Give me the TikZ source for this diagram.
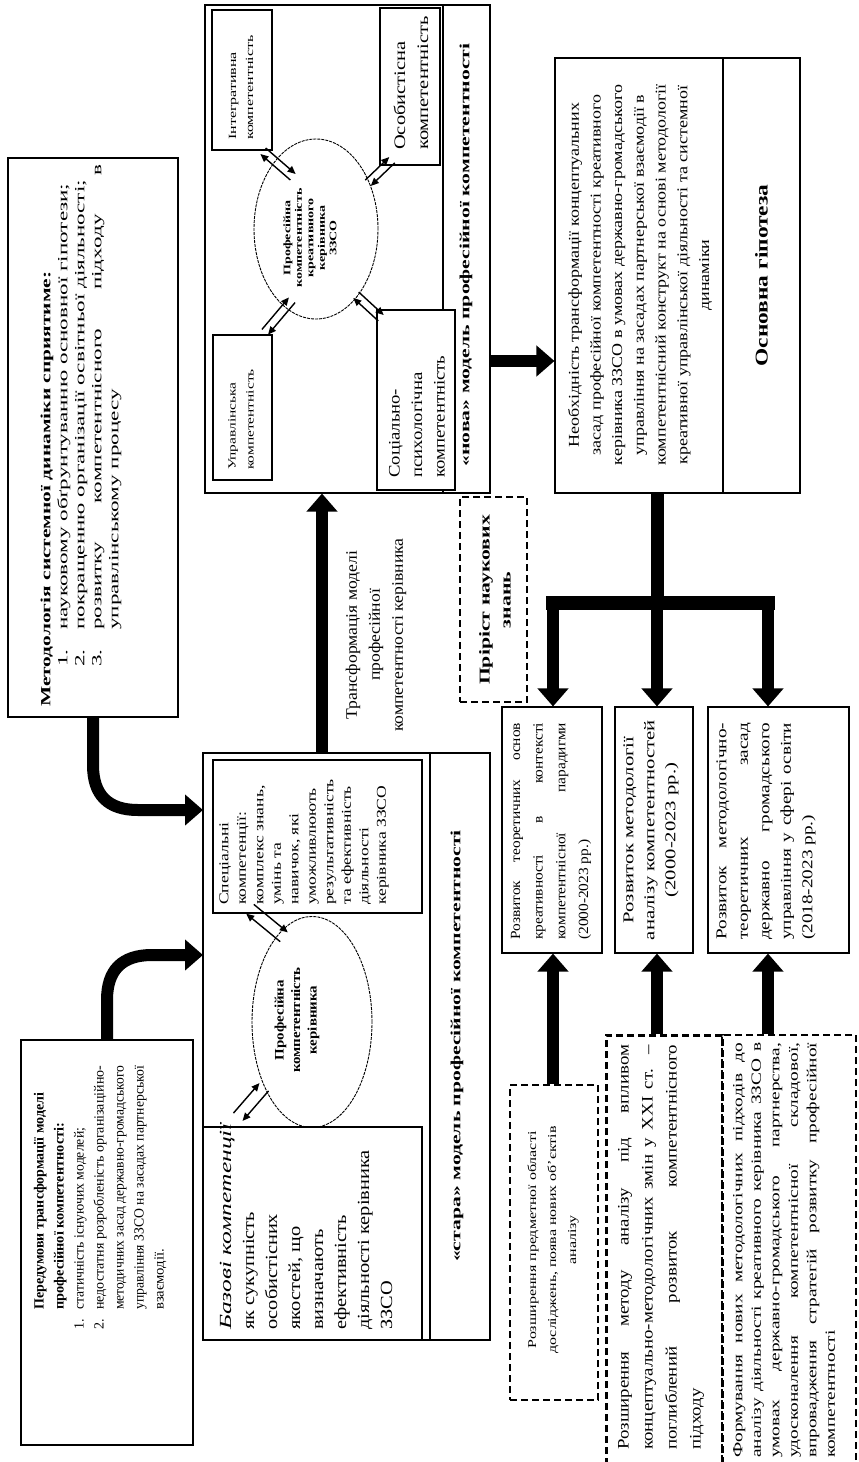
\documentclass[tikz,border=0pt]{standalone}
\usepackage{graphicx}
\usepackage{fontspec}
\setmainfont{Liberation Serif}
\usetikzlibrary{arrows.meta,fit,calc,shapes.geometric}
\newcommand\ff[3]{\fontspec[FakeStretch=#1]{Liberation Serif}\fontsize{#2pt}{#3pt}\selectfont}
\newcommand\itf[1]{\fontspec[FakeStretch=#1]{Liberation Serif}\itshape}
\newcommand\bff[1]{\fontspec[FakeStretch=#1]{Liberation Serif}\bfseries}
\newcommand\js[2]{\makebox[#1pt][s]{#2}}
\newcommand\rl[2]{\resizebox{#1pt}{\height}{#2}}
\newcommand\biarrow[3]{%
 \draw[sarr] ($(#2)!#1!90:(#3)$) -- ($(#3)!#1!-90:(#2)$);
 \draw[sarr] ($(#3)!#1!90:(#2)$) -- ($(#2)!#1!-90:(#3)$);}
\begin{document}
\begin{tikzpicture}[x=1pt,y=-1pt,
 box/.style={draw, line width=1.1pt, fill=white, inner sep=0pt},
 dbox/.style={draw, line width=2pt, dash pattern=on 7pt off 4pt, inner sep=0pt},
 ell/.style={draw, ellipse, line width=0.9pt, dash pattern=on 3pt off 1pt, inner sep=0pt},
 txt/.style={rotate=90, inner sep=0pt, align=left, anchor=west},
 ctxt/.style={rotate=90, inner sep=0pt, align=center, anchor=center},
 big/.style={line width=12pt, -{Triangle[length=18pt,width=30pt]}},
 sarr/.style={line width=1.4pt, -{Triangle[length=8pt,width=7pt]}},
]
\useasboundingbox (0,0) rectangle (859,1462);
\clip (0,0) rectangle (859,1462);
\fill[white] (0,0) rectangle (859,1462);

% ---------- boxes ----------
\node[box, fit={(8,158) (178,717)}] (met) {};
\node[box, fit={(21,1040) (193,1445)}] (pre) {};
\node[box, fit={(205,5) (443,493)}] (novam) {};
\node[box, fit={(443,5) (490,493)}] (noval) {};
\node[box, fit={(212,10) (272,150)}] (integ) {};
\node[box, fit={(380,8) (440,165)}] (osob) {};
\node[box, fit={(213,335) (272,480)}] (upr) {};
\node[box, fit={(377,310) (455,490)}] (soc) {};
\node[box, fit={(203,753) (430,1340)}] (stm) {};
\node[box, fit={(430,753) (490,1340)}] (stl) {};
\node[box, fit={(213,760) (422,913)}] (spec) {};
\node[box, fit={(203,1127) (422,1340)}] (baz) {};
\node[box, fit={(555,58) (723,493)}] (hypt) {};
\node[box, fit={(723,58) (800,493)}] (hypl) {};
\node[dbox, line width=2.5pt, fit={(460,497) (527,702)}] (prir) {};
\node[box, fit={(502,707) (602,953)}] (rA) {};
\node[box, fit={(615,707) (693,953)}] (rB) {};
\node[box, fit={(708,707) (849,953)}] (rC) {};
\node[dbox, fit={(510,1085) (598,1400)}] (dA) {};
\node[dbox, line width=3pt, fit={(606,1035) (722,1480)}] (dB) {};
\node[dbox, line width=2.2pt, fit={(722,1035) (856,1480)}] (dC) {};

\node[ell, minimum width=124pt, minimum height=180pt] (ne) at (316,229) {};
\node[ell, minimum width=120pt, minimum height=211pt] (se) at (312,1022) {};

% ---------- texts ----------
\node[txt, font={\ff{1.65}{14}{17}}] (tmet) at (81,707) {%
{\bff{1.53}Методологія системної динаміки сприятиме:}\\
\hspace*{40pt}\makebox[37pt][l]{1.}науковому обґрунтуванню основної гіпотези;\\
\hspace*{40pt}\makebox[37pt][l]{2.}покращенню організації освітньої діяльності;\\
\hspace*{40pt}\makebox[37pt][l]{3.}\js{465}{розвитку компетентнісного підходу в}\\
\hspace*{77pt}управлінському процесу};

\node[txt, font={\fontsize{14pt}{20pt}\selectfont}] (tpre) at (100,1330) {%
\hspace*{20pt}\rl{217}{\textbf{Передумови трансформації моделі}}\\
\hspace*{20pt}\rl{187}{\textbf{професійної компетентності:}}\\
\makebox[20pt][l]{1.}\rl{182}{статичність існуючих моделей;}\\
\makebox[20pt][l]{2.}\rl{244}{недостатня розробленість організаційно-}\\
\hspace*{20pt}\rl{244}{методичних засад державно-громадського}\\
\hspace*{20pt}\rl{244}{управління ЗЗСО на засадах партнерської}\\
\hspace*{20pt}\rl{61}{взаємодії.}};

\node[ctxt, font={\ff{1.55}{14}{17}\bfseries}] (tnova) at (466,255) {«нова» модель професійної компетентності};
\node[ctxt, font={\ff{1.55}{14}{17}\bfseries}] (tstara) at (457,1046) {«стара» модель професійної компетентності};

\node[txt, font={\ff{1.45}{11}{17}}] (tinteg) at (241,140) {Інтегративна\\компетентність};
\node[txt, font={\ff{1.28}{16}{23}}] (tosob) at (411,150) {Особистісна\\компетентність};
\node[txt, font={\ff{1.4}{11}{18}}] (tupr) at (241,470) {Управлінська\\компетентність};
\node[txt, font={\ff{1.17}{16}{22.5}}] (tsoc) at (417,478) {Соціально-\\психологічна\\компетентність};
\node[ctxt, font={\ff{1.4}{10}{11.5}\bfseries}] (tne) at (310,238) {Професійна\\компетентність\\креативного\\керівника\\ЗЗСО};

\node[ctxt, font={\ff{1.1}{16}{23}}] (ttr) at (376,635) {Трансформація моделі\\професійної\\компетентності керівника};

\node[txt, font={\ff{1.3}{13.5}{17.5}}] (tspec) at (304,905) {Спеціальні\\компетенції:\\комплекс знань,\\умінь та\\навичок, які\\уможливлюють\\результативність\\та ефективність\\діяльності\\керівника ЗЗСО};
\node[ctxt, font={\ff{1.15}{13}{16.5}\bfseries}] (tse) at (297,1020) {Професійна\\компетентність\\керівника};
\node[txt, font={\ff{1.2}{17}{23}}] (tbaz) at (306,1330) {{\itf{1.5}Базові компетенції}\\як сукупність\\особистісних\\якостей, що\\визначають\\ефективність\\діяльності керівника\\ЗЗСО};

\node[ctxt, font={\ff{1.2}{15}{21.7}}] (thyp) at (640,275) {Необхідність трансформації концептуальних\\засад професійної компетентності креативного\\керівника ЗЗСО в умовах державно-громадського\\управління на засадах партнерської взаємодії в\\компетентнісний конструкт на основі методології\\креативної управлінської діяльності та системної\\динаміки};
\node[ctxt, font={\ff{1.3}{18}{22}\bfseries}] (thypl) at (hypl.center) {Основна гіпотеза};
\node[ctxt, font={\ff{1.45}{15}{21}\bfseries}] (tprir) at (495,600) {Пріріст наукових\\знань};

\node[txt, font={\ff{1.1}{14}{22.7}}] (trA) at (551,940) {\js{217}{Розвиток теоретичних основ}\\\js{217}{креативності в контексті}\\\js{217}{компетентнісної парадигми}\\(2000-2023 рр.)};
\node[ctxt, font={\ff{1.38}{15}{21}}] (trB) at (651,830) {Розвиток методології\\аналізу компетентностей\\(2000-2023 рр.)};
\node[txt, font={\ff{1.28}{15}{21.5}}] (trC) at (766,940) {\js{217}{Розвиток методологічно-}\\\js{217}{теоретичних засад}\\\js{217}{державно громадського}\\\js{217}{управління у сфері освіти}\\(2018-2023 рр.)};

\node[ctxt, font={\ff{1.33}{12}{20}}] (tdA) at (553,1240) {Розширення предметної області\\досліджень, поява нових об’єктів\\аналізу};
\node[txt, font={\ff{1.18}{16}{24}}] (tdB) at (661,1450) {\js{405}{Розширення методу аналізу під впливом}\\\js{405}{концептуально-методологічних змін у XXI ст. –}\\\js{405}{поглиблений розвиток компетентнісного}\\підходу};
\node[txt, font={\ff{1.38}{14}{18.5}}] (tdC) at (784,1458) {\js{415}{Формування нових методологічних підходів до}\\\js{415}{аналізу діяльності креативного керівника ЗЗСО в}\\\js{415}{умовах державно-громадського партнерства,}\\\js{415}{удосконалення компетентнісної складової,}\\\js{415}{впровадження стратегій розвитку професійної}\\компетентності};

% ---------- small double arrows ----------
\coordinate (ni1) at (263,151); \coordinate (ni2) at (293,177);
\coordinate (no1) at (392,160); \coordinate (no2) at (368,183);
\coordinate (nu1) at (265,332); \coordinate (nu2) at (292,300);
\coordinate (ns1) at (381,318); \coordinate (ns2) at (356,295);
\coordinate (ss1) at (250,909); \coordinate (ss2) at (284,937);
\coordinate (sb1) at (238,1117); \coordinate (sb2) at (264,1087);
\biarrow{4pt}{ni2}{ni1}
\biarrow{4pt}{no2}{no1}
\biarrow{4pt}{nu2}{nu1}
\biarrow{4pt}{ns2}{ns1}
\biarrow{6pt}{ss2}{ss1}
\biarrow{6pt}{sb2}{sb1}

% ---------- thick connectors ----------
\coordinate (inA) at (203,810);
\coordinate (inB) at (203,955);
\draw[big] (met.south) -- (93,765) .. controls (93,795) and (108,810) .. (138,810) -- (inA);
\draw[big] (pre.north) -- (107,1000) .. controls (107,970) and (122,955) .. (152,955) -- (inB);
\coordinate (tr) at (322,0);
\draw[big] (stm.north -| tr) -- (novam.south -| tr);
\coordinate (hy) at (0,361);
\draw[big] (noval.east |- hy) -- (hypt.west |- hy);
\coordinate (jA) at (553,603);
\coordinate (jB) at (657,603);
\coordinate (jC) at (768,603);
\draw[line width=13pt] (hypt.south -| jB) -- (jB);
\draw[line width=14pt, line cap=rect] (jA) -- (jC);
\draw[big] (jA) -- (rA.north -| jA);
\draw[big] (jB) -- (rB.north -| jB);
\draw[big] (jC) -- (rC.north -| jC);
\draw[big] (dA.north -| jA) -- (rA.south -| jA);
\draw[big] (dB.north -| jB) -- (rB.south -| jB);
\draw[big] (dC.north -| jC) -- (rC.south -| jC);
\end{tikzpicture}
\end{document}
